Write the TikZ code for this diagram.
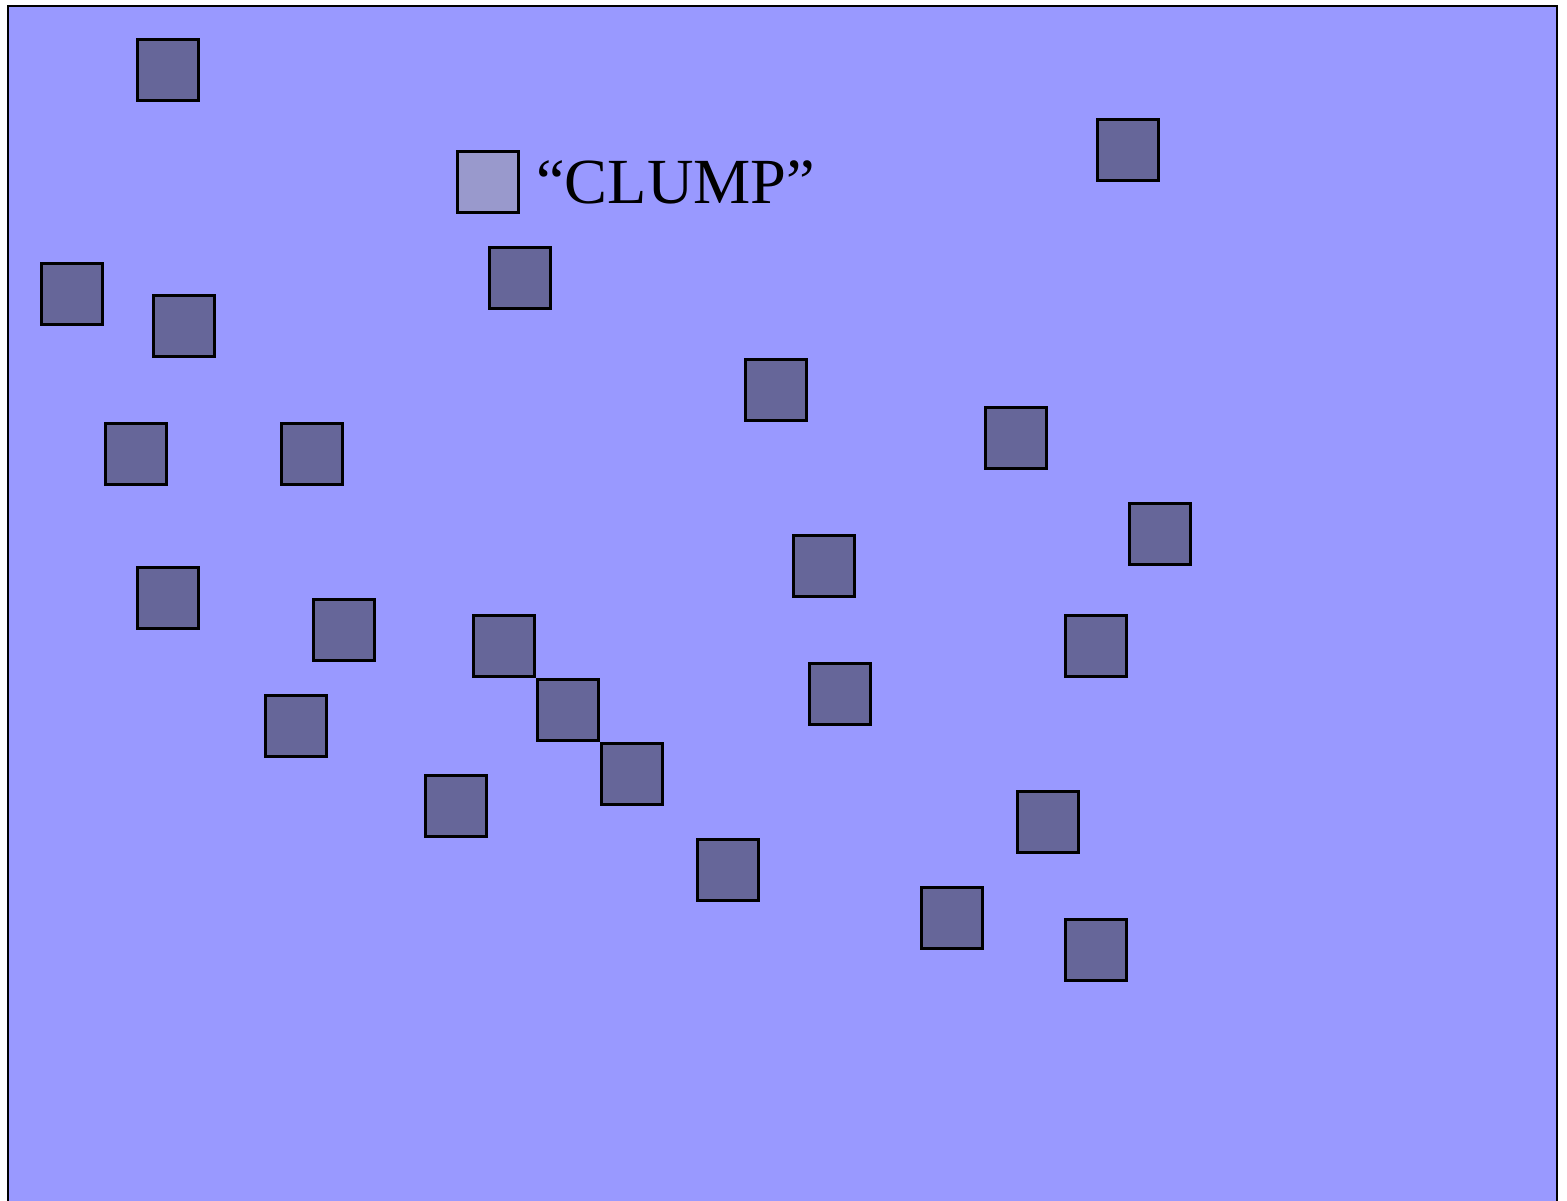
\documentclass[tikz,border=0pt]{standalone}
\usepackage{fontspec}
\setmainfont{Liberation Serif}
\usepackage{tikz}
\usetikzlibrary{positioning}
\definecolor{clBack}{RGB}{153,153,255}
\definecolor{clDark}{RGB}{102,102,153}
\definecolor{clLight}{RGB}{153,153,204}

\begin{document}
\begin{tikzpicture}[x=0.01cm, y=-0.01cm,
    blk/.style={draw=black, line width=0.6pt, fill=clDark, minimum size=0.61cm, inner sep=0pt},
    lightblk/.style={blk, fill=clLight}]
  \useasboundingbox (0,0) rectangle (1567,1201);
  % background field
  \fill[clBack] (8,6) rectangle (1557,1210);
  \draw[black, line width=0.75pt] (8,1210) -- (8,6) -- (1557,6) -- (1557,1210);

  % the clump legend
  \node[lightblk] (c0) at (488,182) {};
  \node[right=0.16cm of c0, inner sep=0pt, font=\fontsize{18.3}{22}\selectfont] (lbl) {``CLUMP''};

  % scattered clumps
  \node[blk] (s1) at (168,70) {};
  \node[blk] (s2) at (1128,150) {};
  \node[blk] (s3) at (520,278) {};
  \node[blk] (s4) at (72,294) {};
  \node[blk] (s5) at (184,326) {};
  \node[blk] (s6) at (776,390) {};
  \node[blk] (s7) at (1016,438) {};
  \node[blk] (s8) at (136,454) {};
  \node[blk] (s9) at (312,454) {};
  \node[blk] (s10) at (1160,534) {};
  \node[blk] (s11) at (824,566) {};
  \node[blk] (s12) at (168,598) {};
  \node[blk] (s13) at (344,630) {};
  \node[blk] (s14) at (504,646) {};
  \node[blk] (s15) at (1096,646) {};
  \node[blk] (s16) at (840,694) {};
  \node[blk] (s17) at (568,710) {};
  \node[blk] (s18) at (296,726) {};
  \node[blk] (s19) at (632,774) {};
  \node[blk] (s20) at (456,806) {};
  \node[blk] (s21) at (1048,822) {};
  \node[blk] (s22) at (728,870) {};
  \node[blk] (s23) at (952,918) {};
  \node[blk] (s24) at (1096,950) {};
\end{tikzpicture}
\end{document}
